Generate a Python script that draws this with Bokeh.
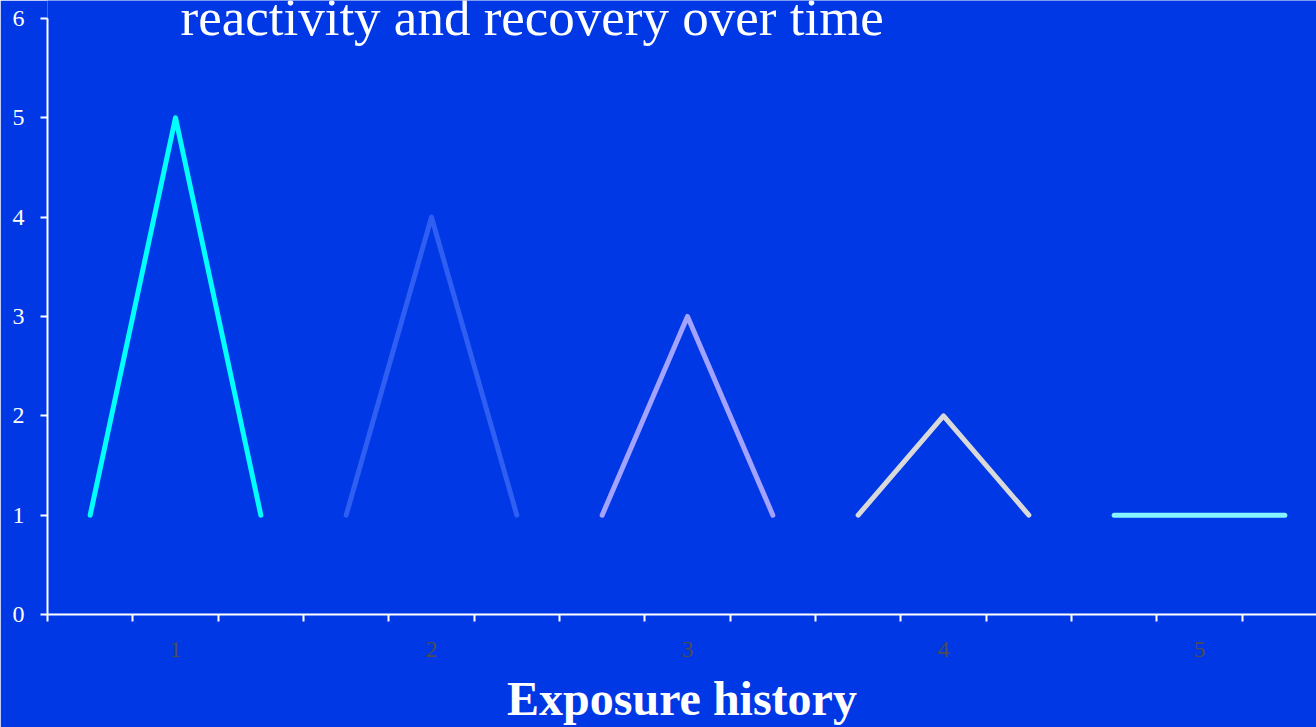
from bokeh.plotting import figure
from bokeh.models import FixedTicker, Range1d, Label
from bokeh.embed import file_html
from bokeh.resources import INLINE

# Exposure episodes: each one rises from baseline to a peak and recovers
episodes = [1, 2, 3, 4, 5]
peaks = [5, 4, 3, 2, 1]
baseline = [1, 1, 1, 1, 1]
half_width = 1 / 3
colors = ["#00ffff", "#2f5ef2", "#a3a3ff", "#d9d9d9", "#86f4ff"]

y_ticks = [0, 1, 2, 3, 4, 5, 6]
x_labels = {1: "1", 2: "2", 3: "3", 4: "4", 5: "5"}
x_minor = [0.5 + k / 3 for k in range(15)]

BG = "#0038e6"
SERIF = "Liberation Serif"

# frame runs to the top edge; the y axis line itself stops at 6
p = figure(width=1316, height=727, output_backend="svg", toolbar_location=None,
           x_range=Range1d(0.5, 5.457), y_range=Range1d(0, 6 * 619 / 601),
           min_border_left=47, min_border_right=0, min_border_top=0,
           min_border_bottom=108)
p.background_fill_color = BG
p.border_fill_color = BG
p.outline_line_color = None
p.grid.grid_line_color = None

for ep, pk, base, col in zip(episodes, peaks, baseline, colors):
    xs = [ep - half_width, ep, ep + half_width]
    ys = [base, pk, base]
    p.line(xs, ys, line_color=col, line_width=5, line_cap="round", line_join="round")

# y axis
p.yaxis.bounds = (0, 6)
p.yaxis.ticker = FixedTicker(ticks=y_ticks, minor_ticks=[])
p.yaxis.axis_line_color = "white"
p.yaxis.axis_line_width = 2
p.yaxis.major_tick_line_color = "white"
p.yaxis.major_tick_line_width = 2
p.yaxis.major_tick_out = 7
p.yaxis.major_tick_in = 0
p.yaxis.major_label_text_color = "white"
p.yaxis.major_label_text_font = SERIF
p.yaxis.major_label_text_font_size = "24px"
p.yaxis.major_label_standoff = 16

# x axis: labels at episode centres, short ticks between
p.xaxis.ticker = FixedTicker(ticks=episodes, minor_ticks=x_minor)
p.xaxis.major_label_overrides = x_labels
p.xaxis.axis_line_color = "white"
p.xaxis.axis_line_width = 2
p.xaxis.major_tick_line_color = None
p.xaxis.major_tick_out = 0
p.xaxis.major_tick_in = 0
p.xaxis.minor_tick_line_color = "white"
p.xaxis.minor_tick_line_width = 2
p.xaxis.minor_tick_out = 7
p.xaxis.minor_tick_in = 0
p.xaxis.major_label_text_color = "#4d4d4d"
p.xaxis.major_label_text_font = SERIF
p.xaxis.major_label_text_font_size = "24px"
p.xaxis.major_label_standoff = 20
p.xaxis.axis_label = "Exposure history"
p.xaxis.axis_label_text_color = "white"
p.xaxis.axis_label_text_font = SERIF
p.xaxis.axis_label_text_font_style = "bold"
p.xaxis.axis_label_text_font_size = "48px"
p.xaxis.axis_label_standoff = 12

# heading line at the top of the frame (screen units are frame-relative)
title = Label(x=133, y=598, x_units="screen", y_units="screen",
              text="reactivity and recovery over time",
              text_color="white", text_font=SERIF, text_font_size="53px",
              text_baseline="alphabetic", text_align="left")
p.add_layout(title)

open("out.html", "w").write(file_html(p, INLINE))
